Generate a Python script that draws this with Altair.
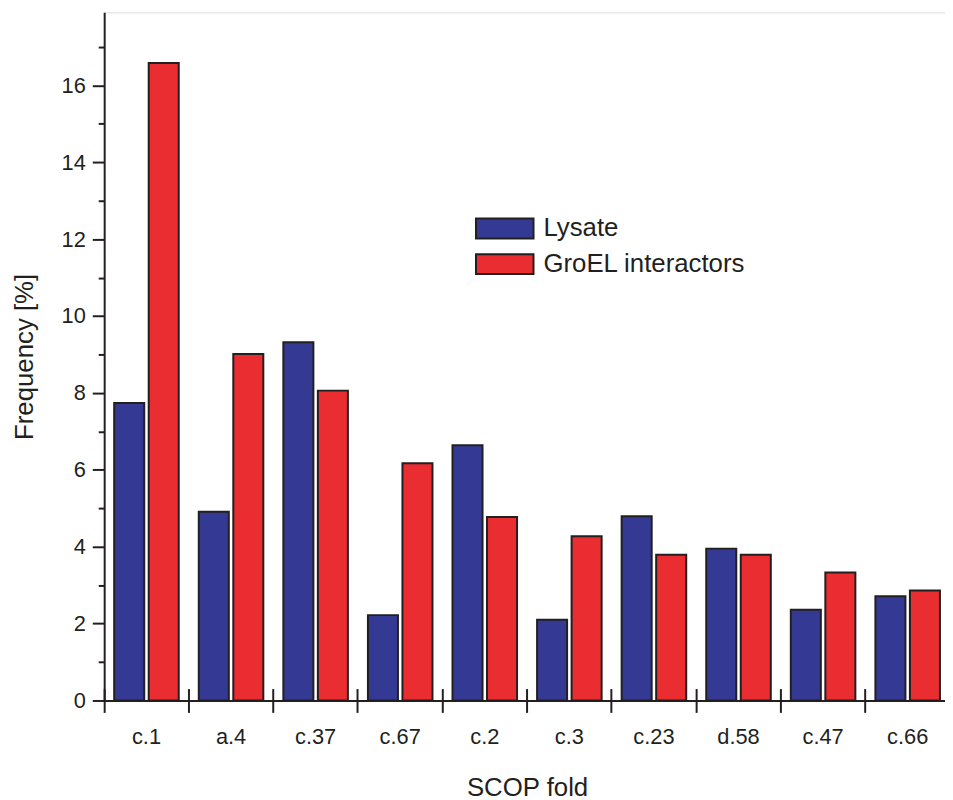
import altair as alt
import pandas as pd

folds = ["c.1", "a.4", "c.37", "c.67", "c.2", "c.3", "c.23", "d.58", "c.47", "c.66"]
lysate = [7.74, 4.91, 9.32, 2.22, 6.64, 2.10, 4.79, 3.95, 2.36, 2.71]
groel = [16.58, 9.01, 8.06, 6.17, 4.77, 4.27, 3.79, 3.79, 3.33, 2.86]
series = ["Lysate", "GroEL interactors"]
colors = ["#343A94", "#E92D30"]
major_ticks = [0, 2, 4, 6, 8, 10, 12, 14, 16]
minor_ticks = [1, 3, 5, 7, 9, 11, 13, 15, 17]

rows = []
for f, a, b in zip(folds, lysate, groel):
    rows.append({"fold": f, "series": series[0], "value": a})
    rows.append({"fold": f, "series": series[1], "value": b})
df = pd.DataFrame(rows)

INK = "#231F20"
FONT = "Liberation Sans"

xscale = alt.Scale(domain=folds, paddingInner=0, paddingOuter=0, range=[0, 853])
yscale = alt.Scale(domain=[0, 17.9], nice=False, zero=True)
offscale = alt.Scale(domain=series, paddingInner=0.13, paddingOuter=0.29)

bars = alt.Chart(df).mark_bar(stroke=INK, strokeWidth=2, opacity=1).encode(
    x=alt.X("fold:N", scale=xscale, sort=folds,
            axis=alt.Axis(orient="bottom", title="SCOP fold", ticks=False, labelAngle=0,
                          labelPadding=26, labelFontSize=22, labelColor=INK, labelFont=FONT,
                          domainColor=INK, domainWidth=2, titleFontSize=26, titleFont=FONT,
                          titleFontWeight="normal", titleColor=INK, titlePadding=28,
                          grid=False)),
    xOffset=alt.XOffset("series:N", scale=offscale, sort=series),
    y=alt.Y("value:Q", scale=yscale,
            axis=alt.Axis(orient="left", title="Frequency [%]", values=major_ticks,
                          tickSize=12, tickWidth=2, tickColor=INK, labelPadding=7,
                          labelFontSize=22, labelColor=INK, labelFont=FONT,
                          domainColor=INK, domainWidth=2, titleFontSize=26, titleFont=FONT,
                          titleFontWeight="normal", titleColor=INK, titlePadding=24,
                          grid=False)),
    color=alt.Color("series:N", scale=alt.Scale(domain=series, range=colors), sort=series,
                    legend=alt.Legend(orient="none", legendX=391, legendY=205, title=None,
                                      symbolType="M-2.9,-1H2.9V1H-2.9Z", symbolSize=400,
                                      symbolStrokeColor=INK, symbolStrokeWidth=2,
                                      symbolOpacity=1, labelFontSize=26, labelFont=FONT,
                                      labelColor=INK, labelOffset=26, labelLimit=500,
                                      rowPadding=8)),
)

ticks_layer = alt.Chart(df).mark_bar(opacity=0).encode(
    x=alt.X("fold:N", scale=xscale, sort=folds,
            axis=alt.Axis(orient="bottom", title=None, labels=False, domain=False,
                          bandPosition=0, tickSize=24, tickWidth=2, tickColor=INK,
                          offset=-12, grid=False)),
    y=alt.Y("value:Q", scale=yscale,
            axis=alt.Axis(orient="left", title=None, labels=False, domain=False,
                          values=minor_ticks, tickSize=6, tickWidth=2, tickColor=INK,
                          grid=False)),
)

chart = alt.layer(bars, ticks_layer).resolve_axis(x="independent", y="independent").properties(
    width=848, height=694,
    autosize=alt.AutoSizeParams(type="none"),
    padding={"left": 97, "top": 1, "right": 0, "bottom": 98},
).configure_view(stroke="transparent", strokeWidth=0
).configure_axisTop(disable=True).configure_axisRight(disable=True
).configure(background="white")

chart.save("out.html", embed_options={"renderer": "svg", "actions": False})
